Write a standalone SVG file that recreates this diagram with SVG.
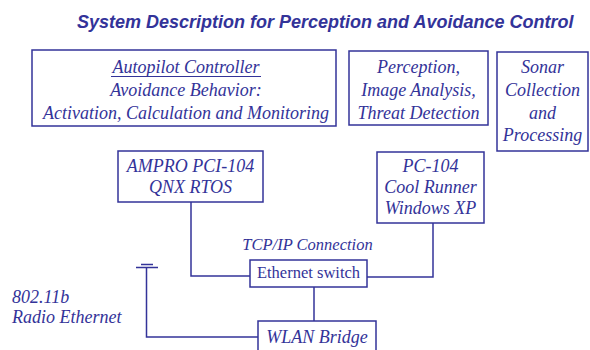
<svg xmlns="http://www.w3.org/2000/svg" width="590" height="350" viewBox="0 0 590 350">
<style>
.box{fill:#fff;stroke:#333399;stroke-width:1.5}
.ln{fill:none;stroke:#333399;stroke-width:1.5}
text{fill:#333399}
.t{font-family:'Liberation Serif','Times New Roman',Times,serif;font-style:italic;font-size:18px;text-anchor:middle}
.s{font-size:16.5px}
.title{font-family:'Liberation Sans',Arial,sans-serif;font-style:italic;font-weight:bold;font-size:18px}
</style>
<rect width="590" height="350" fill="#fff"/>
<text class="title" x="77" y="28">System Description for Perception and Avoidance Control</text>
<g id="connectors">
<path class="ln" d="M191,202 V276 H250"/>
<path class="ln" d="M433,223 V277 H367"/>
<path class="ln" d="M314,287 V321"/>
<path class="ln" d="M146.5,268 V337 H258"/>
<path class="ln" d="M136,267.5 H158 M141,264.5 H153"/>
</g>
<g id="autopilot">
<rect class="box" x="32" y="50" width="304" height="76"/>
<text class="t" x="186" y="73">Autopilot Controller</text>
<line x1="111" y1="76.5" x2="261" y2="76.5" stroke="#333399" stroke-width="1"/>
<text class="t" x="186" y="96">Avoidance Behavior:</text>
<text class="t" x="186" y="119">Activation, Calculation and Monitoring</text>
</g>
<g id="perception">
<rect class="box" x="349" y="51" width="139" height="74"/>
<text class="t" x="418.5" y="73">Perception,</text>
<text class="t" x="418.5" y="96">Image Analysis,</text>
<text class="t" x="418.5" y="119">Threat Detection</text>
</g>
<g id="sonar">
<rect class="box" x="497" y="52" width="91" height="99"/>
<text class="t" x="542.5" y="73">Sonar</text>
<text class="t" x="542.5" y="96">Collection</text>
<text class="t" x="542.5" y="119">and</text>
<text class="t" x="542.5" y="141">Processing</text>
</g>
<g id="ampro">
<rect class="box" x="118" y="151" width="145" height="51"/>
<text class="t" x="190.5" y="172">AMPRO PCI-104</text>
<text class="t" x="190.5" y="193">QNX RTOS</text>
</g>
<g id="pc104">
<rect class="box" x="377" y="152" width="107" height="71"/>
<text class="t" x="430.5" y="172">PC-104</text>
<text class="t" x="430.5" y="193">Cool Runner</text>
<text class="t" x="430.5" y="214">Windows XP</text>
</g>
<text class="t s" x="307.5" y="250">TCP/IP Connection</text>
<g id="switch">
<rect class="box" x="250" y="260" width="117" height="27"/>
<text class="t s" x="308.5" y="278" style="font-style:normal">Ethernet switch</text>
</g>
<g id="wlan">
<rect class="box" x="258" y="321" width="118" height="35"/>
<text class="t" x="317" y="342.5">WLAN Bridge</text>
</g>
<g id="radio">
<text class="t" x="12" y="302.5" style="text-anchor:start">802.11b</text>
<text class="t" x="12" y="323" style="text-anchor:start">Radio Ethernet</text>
</g>
</svg>
